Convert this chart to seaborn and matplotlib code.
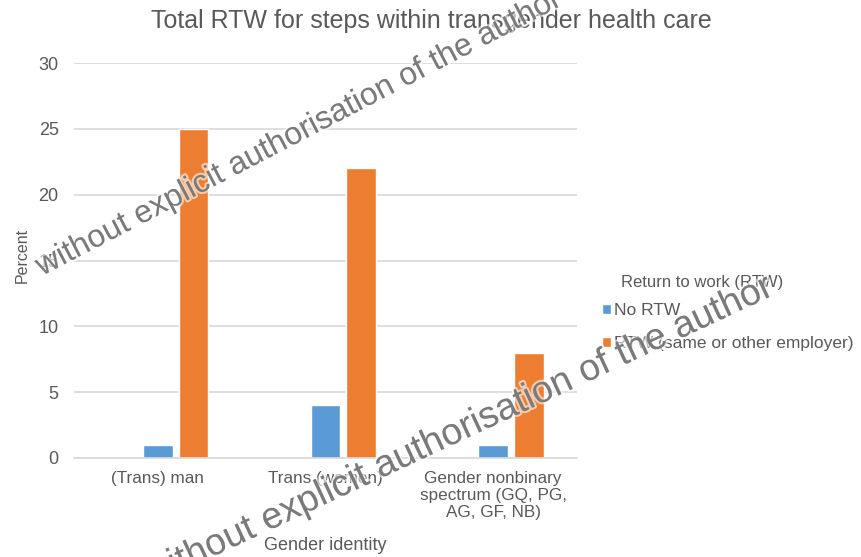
import pandas as pd
import matplotlib.pyplot as plt
import matplotlib.patheffects as pe
import seaborn as sns

sns.set_theme(style="white")
plt.rcParams['font.family'] = ['Liberation Sans', 'DejaVu Sans']

# data
categories = ["(Trans) man", "Trans (women)", "Gender nonbinary\nspectrum (GQ, PG,\nAG, GF, NB)"]
no_rtw = [1, 4, 1]
rtw = [25, 22, 8]
series_names = ["No RTW", "RTW (same or other employer)"]
# Excel left an empty series slot in front of the two real ones
hue_order = [" ", "No RTW", "RTW (same or other employer)"]
palette = {" ": "#FFFFFF", "No RTW": "#5B9BD5", "RTW (same or other employer)": "#ED7D31"}

df = pd.DataFrame({
    "Gender identity": categories * 2,
    "Percent": no_rtw + rtw,
    "RTW": [series_names[0]] * 3 + [series_names[1]] * 3,
})

text_col = "#595959"
W, H = 862, 557

fig = plt.figure(figsize=(8.62, 5.57), dpi=100)
ax = fig.add_axes([74 / W, 1 - 458 / H, 503 / W, 395 / H])

sns.barplot(data=df, x="Gender identity", y="Percent", hue="RTW", hue_order=hue_order,
            palette=palette, order=categories, width=0.64, gap=0.17, ax=ax, saturation=1)

ax.set_ylim(0, 30)
ax.set_yticks(range(0, 31, 5))
ax.yaxis.grid(True, color="#D9D9D9", linewidth=1.2)
ax.set_axisbelow(True)
for s in ["top", "right", "left"]:
    ax.spines[s].set_visible(False)
ax.spines["bottom"].set_color("#D9D9D9")
ax.spines["bottom"].set_linewidth(1.2)
ax.tick_params(axis="both", length=0, colors=text_col)
ax.tick_params(axis="x", labelsize=12.3, pad=9)
ax.tick_params(axis="y", labelsize=13, pad=11)

ax.set_xlabel("Gender identity", fontsize=13, color=text_col)
ax.xaxis.set_label_coords(0.5, -0.2)
ax.set_ylabel("Percent", fontsize=11.5, color=text_col)
ax.yaxis.set_label_coords(-0.0875, 0.514)
fig.text(0.5, 1 - 21 / H, "Total RTW for steps within transgender health care", fontsize=18,
         color=text_col, ha="center", va="center")

handles, labels = ax.get_legend_handles_labels()
keep = [(h, l) for h, l in zip(handles, labels) if l in series_names]
ax.legend([h for h, _ in keep], [l for _, l in keep],
          loc="upper left", bbox_to_anchor=(602 / W, 1 - 303 / H), bbox_transform=fig.transFigure,
          frameon=False, fontsize=12.5, handlelength=0.5, handleheight=0.5,
          handletextpad=0.2, labelspacing=1.05, borderpad=0, borderaxespad=0,
          labelcolor=text_col)
fig.text(621 / W, 1 - 287 / H, "Return to work (RTW)", fontsize=12, color=text_col,
         ha="left", va="baseline")

# watermark over the chart
wm = "without explicit authorisation of the author"
for (px, py), rot, size in [((42, 276), 27.5, 23), ((150, 586), 25, 27)]:
    fig.text(px / W, 1 - py / H, wm, fontsize=size, color="#7a7a7a", rotation=rot,
             ha="left", va="baseline", rotation_mode="anchor", zorder=10,
             path_effects=[pe.withStroke(linewidth=3, foreground="white", alpha=0.6)])

fig.savefig("out.png", dpi=100)
